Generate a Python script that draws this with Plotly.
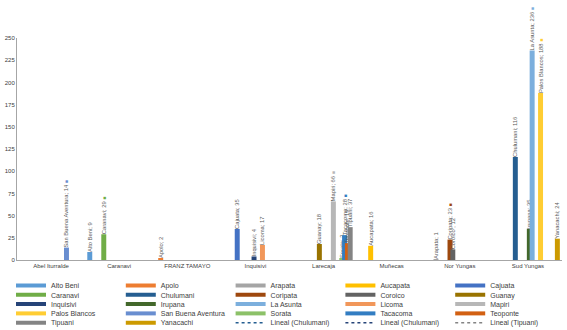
import plotly.graph_objects as go

categories = ["Abel Iturralde", "Caranavi", "FRANZ TAMAYO", "Inquisivi",
              "Larecaja", "Muñecas", "Nor Yungas", "Sud Yungas"]

series_names = ["Alto Beni", "Apolo", "Arapata", "Aucapata", "Cajuata",
                "Caranavi", "Chulumani", "Coripata", "Coroico ", "Guanay",
                "Inquisivi", "Irupana", "La Asunta", "Licoma", "Mapiri",
                "Palos Blancos", "San Buena Aventura", "Sorata", "Tacacoma",
                "Teoponte", "Tipuani", "Yanacachi"]

N = None
alto_beni      = [N, 9, N, N, N, N, N, N]
apolo          = [N, N, 2, N, N, N, N, N]
arapata        = [N, N, N, N, N, N, 1, N]
aucapata       = [N, N, N, N, N, 16, N, N]
cajuata        = [N, N, N, 35, N, N, N, N]
caranavi       = [N, 29, N, N, N, N, N, N]
chulumani      = [N, N, N, N, N, N, N, 116]
coripata       = [N, N, N, N, N, N, 23, N]
coroico        = [N, N, N, N, N, N, 12, N]
guanay         = [N, N, N, N, 18, N, N, N]
inquisivi      = [N, N, N, 4, N, N, N, N]
irupana        = [N, N, N, N, N, N, N, 35]
la_asunta      = [N, N, N, N, N, N, N, 236]
licoma         = [N, N, N, 17, N, N, N, N]
mapiri         = [N, N, N, N, 66, N, N, N]
palos_blancos  = [N, N, N, N, N, N, N, 188]
san_buena      = [14, N, N, N, N, N, N, N]
sorata         = [N, N, N, N, 2, N, N, N]
tacacoma       = [N, N, N, N, 28, N, N, N]
teoponte       = [N, N, N, N, 19, N, N, N]
tipuani        = [N, N, N, N, 37, N, N, N]
yanacachi      = [N, N, N, N, N, N, N, 24]

series_values = [alto_beni, apolo, arapata, aucapata, cajuata, caranavi,
                 chulumani, coripata, coroico, guanay, inquisivi, irupana,
                 la_asunta, licoma, mapiri, palos_blancos, san_buena, sorata,
                 tacacoma, teoponte, tipuani, yanacachi]

trend_names = ["Lineal (Chulumani)", "Lineal (Chulumani)", "Lineal (Tipuani)"]

colors = ["#5B9BD5", "#ED7D31", "#A5A5A5", "#FFC000", "#4472C4", "#70AD47",
          "#255E91", "#9E480E", "#636363", "#997300", "#264478", "#43682B",
          "#7CAFDD", "#F1975A", "#B7B7B7", "#FFCD33", "#698ED0", "#8CC168",
          "#327DC2", "#D26012", "#848484", "#CC9A00"]
trend_colors = ["#255E91", "#264478", "#848484"]
key_series = {"San Buena Aventura", "Caranavi", "Mapiri", "Tacacoma",
              "Coripata", "La Asunta", "Palos Blancos"}

FONT = "Arial, Liberation Sans"
fig = go.Figure()

n = len(series_names)
slot = 0.905 / n
bw = 0.073
for i, (name, vals, col) in enumerate(zip(series_names, series_values, colors)):
    texts = []
    for v in vals:
        if v is None:
            texts.append("")
        else:
            t = f"{name}; {v}"
            if name in key_series:
                t += f" <span style='color:{col};font-size:5px'>■</span>"
            texts.append(t)
    fig.add_trace(go.Bar(
        x=categories, y=vals, name=name, marker_color=col,
        marker_line_width=0, width=bw,
        offset=(i - (n - 1) / 2) * slot - bw / 2,
        text=texts, textposition="outside", textangle=-90,
        constraintext="none", cliponaxis=False,
        textfont=dict(size=5.8, color="#595959", family=FONT),
        showlegend=False, hoverinfo="x+y+name"))

# legend entries (5 rows of 5)
legend_items = [(nm, col, "solid") for nm, col in zip(series_names, colors)]
legend_items += [(nm, col, "dot") for nm, col in zip(trend_names, trend_colors)]
for k, (nm, col, dash) in enumerate(legend_items):
    row = k // 5
    lg = "legend" if row == 0 else f"legend{row + 1}"
    fig.add_trace(go.Scatter(
        x=[None], y=[None], mode="lines", name=nm.strip(),
        line=dict(color=col, width=4 if dash == "solid" else 1.5, dash=dash),
        legend=lg, showlegend=True, hoverinfo="skip"))

row_centers = [285.5, 294.8, 304.1, 313.4, 322.7]
H, W = 330, 567
legend_common = dict(orientation="h", entrywidth=64.8, entrywidthmode="pixels",
                     font=dict(size=7, color="#404040", family=FONT),
                     bgcolor="rgba(0,0,0,0)", xref="container", yref="container",
                     x=11 / W, xanchor="left", yanchor="middle",
                     itemwidth=30, tracegroupgap=0)
legends = {}
for r, yc in enumerate(row_centers):
    key = "legend" if r == 0 else f"legend{r + 1}"
    legends[key] = dict(legend_common, y=1 - yc / H)

fig.update_layout(
    width=W, height=H,
    margin=dict(l=17, r=5, t=38, b=70),
    paper_bgcolor="white", plot_bgcolor="white",
    barmode="overlay",
    font=dict(family=FONT, color="#595959"),
    xaxis=dict(type="category", categoryorder="array", categoryarray=categories,
               showline=True, linecolor="#A6A6A6", linewidth=1, automargin=False,
               showgrid=False, ticks="", tickfont=dict(size=6, color="#404040"),
               range=[-0.5, len(categories) - 0.5]),
    yaxis=dict(range=[0, 250], dtick=25, showline=True, linecolor="#A6A6A6",
               linewidth=1, showgrid=False, zeroline=False, ticks="", automargin=False,
               tickfont=dict(size=6, color="#404040")),
    **legends,
)

fig.write_html("out.html", config={"displayModeBar": False},
               post_script="document.body.style.margin='0';document.body.style.overflow='hidden';")
